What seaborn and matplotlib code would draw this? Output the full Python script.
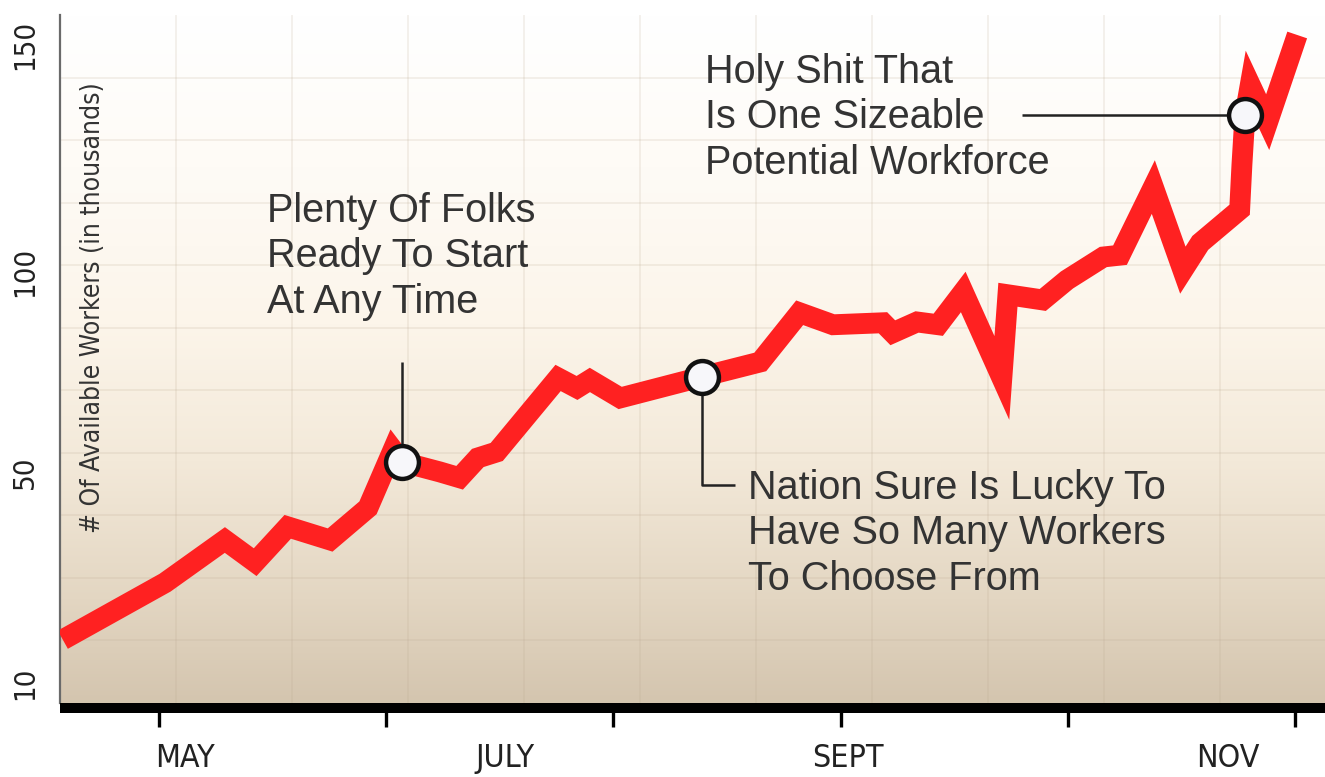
import numpy as np
import pandas as pd
import matplotlib
matplotlib.use("Agg")
import matplotlib.pyplot as plt
from matplotlib import font_manager
from matplotlib.colors import LinearSegmentedColormap
import seaborn as sns

# ---- data -------------------------------------------------------------
# days measured from the start of May
days = [-12.7, 0.8, 8.7, 12.7, 17.0, 22.6, 27.6, 30.9, 32.1, 37.1,
        39.7, 42.1, 44.6, 52.7, 55.2, 56.9, 60.9, 71.7, 79.4, 84.6,
        89.0, 95.6, 96.9, 100.1, 102.9, 106.2, 111.3, 112.1, 116.7, 119.9,
        124.7, 126.9, 131.3, 135.2, 137.5, 142.7, 143.0, 143.4, 144.1, 146.4,
        150.3]
# available workers, in thousands
workers = [18.2, 29.0, 37.1, 32.9, 39.6, 37.1, 43.2, 55.5, 52.5, 50.0,
           48.9, 53.5, 55.0, 73.5, 71.0, 73.0, 68.5, 73.8, 77.5, 89.8,
           86.8, 87.3, 84.8, 87.5, 86.8, 95.0, 73.5, 94.3, 93.0, 98.0,
           103.3, 103.7, 118.7, 100.4, 106.4, 113.7, 123.6, 134.6, 141.2, 133.0,
           152.2]

callout_idx = [8, 17, 37]
callout_text = [
    "Plenty Of Folks\nReady To Start\nAt Any Time",
    "Nation Sure Is Lucky To\nHave So Many Workers\nTo Choose From",
    "Holy Shit That\nIs One Sizeable\nPotential Workforce",
]

month_ticks = [0, 30, 60, 90, 120, 150]
month_label_pos = [3.4, 45.7, 91.0, 141.2]
month_labels = ["MAY", "JULY", "SEPT", "NOV"]

y_tick_values = [10, 50, 100, 150]
y_label = "# Of Available Workers (in thousands)"

# ---- fonts ------------------------------------------------------------
installed = {f.name for f in font_manager.fontManager.ttflist}
narrow = "Liberation Sans Narrow" if "Liberation Sans Narrow" in installed else "DejaVu Sans"
body = "Liberation Sans" if "Liberation Sans" in installed else "DejaVu Sans"
narrow_kw = dict(family=narrow)
if narrow == "DejaVu Sans":
    narrow_kw["stretch"] = "condensed"

sns.set_theme(style="white")
plt.rcParams["font.family"] = [body, "DejaVu Sans"]

# ---- hand-drawn style value axis: ticks are not evenly spaced ----------
tick_steps = [0.0, 211.0, 411.0, 638.0]


def fwd(v):
    v = np.asarray(v, dtype=float)
    out = np.interp(v, y_tick_values, tick_steps)
    s0 = (tick_steps[1] - tick_steps[0]) / (y_tick_values[1] - y_tick_values[0])
    s1 = (tick_steps[-1] - tick_steps[-2]) / (y_tick_values[-1] - y_tick_values[-2])
    out = np.where(v < y_tick_values[0], tick_steps[0] + (v - y_tick_values[0]) * s0, out)
    out = np.where(v > y_tick_values[-1], tick_steps[-1] + (v - y_tick_values[-1]) * s1, out)
    return out


def inv(u):
    u = np.asarray(u, dtype=float)
    out = np.interp(u, tick_steps, y_tick_values)
    s0 = (y_tick_values[1] - y_tick_values[0]) / (tick_steps[1] - tick_steps[0])
    s1 = (y_tick_values[-1] - y_tick_values[-2]) / (tick_steps[-1] - tick_steps[-2])
    out = np.where(u < tick_steps[0], y_tick_values[0] + (u - tick_steps[0]) * s0, out)
    out = np.where(u > tick_steps[-1], y_tick_values[-1] + (u - tick_steps[-1]) * s1, out)
    return out


# ---- figure -----------------------------------------------------------
fig = plt.figure(figsize=(13.25, 7.77), dpi=100, facecolor="white")
ax = fig.add_axes([60 / 1325, 1 - 703 / 777, 1265 / 1325, 688 / 777])
ax.set_yscale("function", functions=(fwd, inv))
ax.set_xlim(-13.07, 153.97)
ax.set_ylim(6.2, 156.6)

# warm paper gradient behind the plot
grad = LinearSegmentedColormap.from_list(
    "paper",
    [(0.0, (212 / 255, 197 / 255, 175 / 255)),
     (0.15, (227 / 255, 214 / 255, 194 / 255)),
     (0.35, (243 / 255, 233 / 255, 217 / 255)),
     (0.55, (252 / 255, 245 / 255, 234 / 255)),
     (0.78, (254 / 255, 251 / 255, 246 / 255)),
     (1.0, (1.0, 1.0, 1.0))])
ax.imshow(np.linspace(1, 0, 256).reshape(-1, 1), cmap=grad, aspect="auto",
          extent=[0, 1, 0, 1], transform=ax.transAxes, zorder=0)

# faint background grid
grid_kw = dict(color="#b9a78e", alpha=0.16, lw=1.4, zorder=1)
ax.hlines([k / 11 for k in range(1, 11)], 0, 1, transform=ax.transAxes, **grid_kw)
ax.vlines(np.arange(2.24, 150, 15.32), 0, 1, transform=ax.get_xaxis_transform(), **grid_kw)

# main series
df = pd.DataFrame({"day": days, "workers": workers})
sns.lineplot(data=df, x="day", y="workers", sort=False, estimator=None, ax=ax,
             color="#ff2121", lw=15, zorder=3, legend=False)
for ln in ax.get_lines():
    ln.set_solid_joinstyle("miter")
    ln.set_solid_capstyle("butt")

# callout leaders
lead_kw = dict(color="#222222", lw=1.8, zorder=4, solid_capstyle="butt")
d0, w0 = days[callout_idx[0]], workers[callout_idx[0]]
ax.plot([d0, d0], [77.5, w0], **lead_kw)
d1, w1 = days[callout_idx[1]], workers[callout_idx[1]]
ax.plot([d1, d1, 76.1], [w1, 47.5, 47.5], **lead_kw)
d2, w2 = days[callout_idx[2]], workers[callout_idx[2]]
ax.plot([114.0, d2], [w2, w2], **lead_kw)

# callout markers
pts = df.iloc[callout_idx]
sns.scatterplot(data=pts, x="day", y="workers", ax=ax, s=560, color="#f7f7fa",
                edgecolor="#111111", linewidth=3.2, zorder=5, legend=False)

# callout text
txt_kw = dict(fontsize=28.5, color="#333333", ha="left", va="center",
              linespacing=1.25, zorder=6)
ax.text(14.3, 103.5, callout_text[0], **txt_kw)
ax.text(77.8, 38.4, callout_text[1], **txt_kw)
ax.text(72.1, 134.1, callout_text[2], **txt_kw)

# axis label sits inside the plot
ax.text(0.026, 0.574, y_label, transform=ax.transAxes, rotation=90,
        ha="center", va="center", fontsize=19, color="#333333", zorder=6, **narrow_kw)
ax.set_xlabel("")
ax.set_ylabel("")

# spines and ticks
for s in ("top", "right"):
    ax.spines[s].set_visible(False)
ax.spines["left"].set_color("#6a6a6a")
ax.spines["left"].set_linewidth(1.6)
ax.spines["bottom"].set_color("black")
ax.spines["bottom"].set_linewidth(7.2)
ax.spines["bottom"].set_position(("outward", 3.6))
ax.spines["bottom"].set_capstyle("butt")

ax.set_xticks(month_ticks)
ax.set_xticklabels([""] * len(month_ticks))
ax.set_xticks(month_label_pos, minor=True)
ax.set_xticklabels(month_labels, minor=True, fontsize=23, color="#222222", **narrow_kw)
ax.tick_params(axis="x", which="major", direction="out", length=14, width=2.4,
               color="black", bottom=True)
ax.tick_params(axis="x", which="minor", length=0, pad=25, bottom=True)

ax.set_yticks(y_tick_values)
ax.set_yticks([], minor=True)
ax.set_yticklabels([str(v) for v in y_tick_values], rotation=90, va="center",
                   fontsize=21, color="#222222", **narrow_kw)
ax.tick_params(axis="y", which="major", length=0, pad=15, left=True)

ax.grid(False)
fig.savefig("out.png", dpi=100, facecolor="white")
